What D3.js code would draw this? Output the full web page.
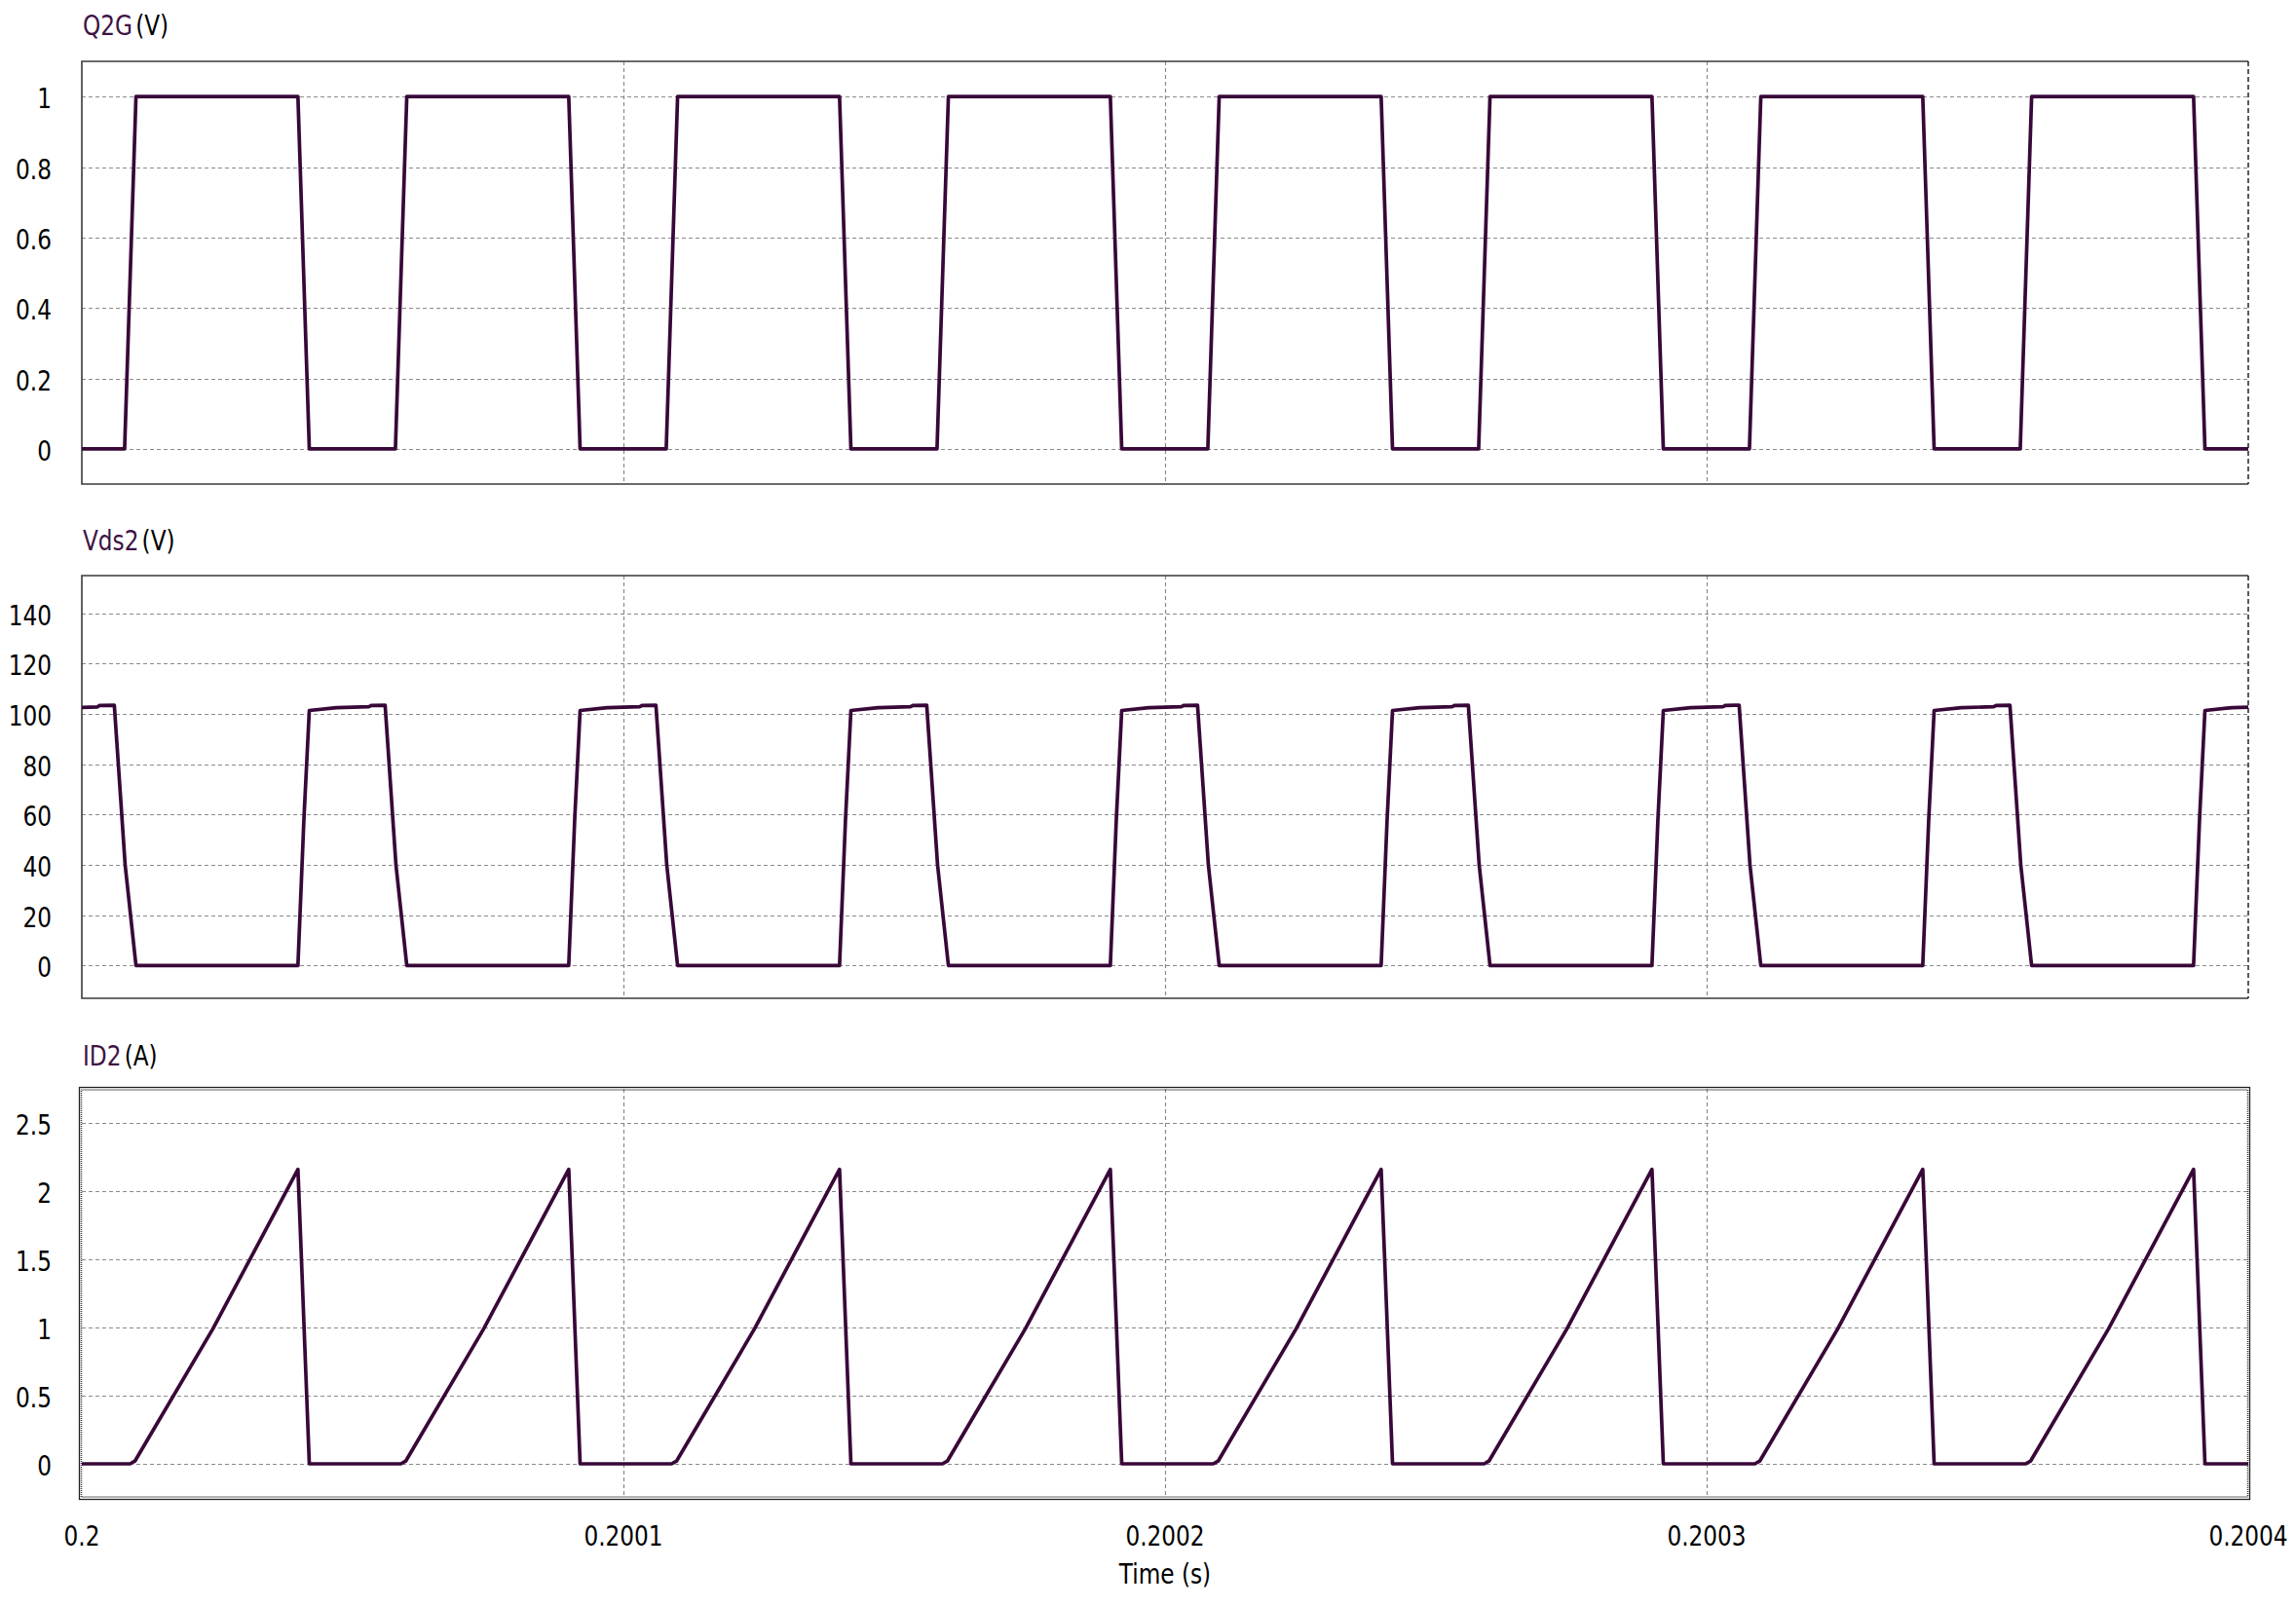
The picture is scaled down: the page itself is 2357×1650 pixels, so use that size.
<!DOCTYPE html>
<html>
<head>
<meta charset="utf-8">
<script src="https://cdn.jsdelivr.net/npm/d3@7"></script>
<style>
  html, body { margin: 0; padding: 0; background: #fff; }
  svg { display: block; }
  text { font-family: "DejaVu Sans", "Noto Sans", sans-serif; }
</style>
</head>
<body>
<script>
// ---------------- DATA (time in microseconds after t = 0.2 s) ----------------
const xTickValues = [0, 100, 200, 300, 400];
const xTickLabels = ["0.2", "0.2001", "0.2002", "0.2003", "0.2004"];
const xAxisTitle = "Time (s)";

const q2gTicks = [0, 0.2, 0.4, 0.6, 0.8, 1];
const q2gTickLabels = ["0", "0.2", "0.4", "0.6", "0.8", "1"];
const vdsTicks = [0, 20, 40, 60, 80, 100, 120, 140];
const vdsTickLabels = ["0", "20", "40", "60", "80", "100", "120", "140"];
const idTicks = [0, 0.5, 1, 1.5, 2, 2.5];
const idTickLabels = ["0", "0.5", "1", "1.5", "2", "2.5"];

const q2gT = [0,
  7.9, 10, 39.9, 42,
  57.9, 60, 89.9, 92,
  107.9, 110, 139.9, 142,
  157.9, 160, 189.9, 192,
  207.9, 210, 239.9, 242,
  257.9, 260, 289.9, 292,
  307.9, 310, 339.9, 342,
  357.9, 360, 389.9, 392,
  400];
const q2gV = [0,
  0, 1, 1, 0,
  0, 1, 1, 0,
  0, 1, 1, 0,
  0, 1, 1, 0,
  0, 1, 1, 0,
  0, 1, 1, 0,
  0, 1, 1, 0,
  0, 1, 1, 0,
  0];

const vdsT = [0, 2.9, 3.3,
  6, 8, 10, 39.9, 41, 42, 47, 53, 53.5,
  56, 58, 60, 89.9, 91, 92, 97, 103, 103.5,
  106, 108, 110, 139.9, 141, 142, 147, 153, 153.5,
  156, 158, 160, 189.9, 191, 192, 197, 203, 203.5,
  206, 208, 210, 239.9, 241, 242, 247, 253, 253.5,
  256, 258, 260, 289.9, 291, 292, 297, 303, 303.5,
  306, 308, 310, 339.9, 341, 342, 347, 353, 353.5,
  356, 358, 360, 389.9, 391, 392, 397, 400];
const vdsV = [102.6, 102.8, 103.4,
  103.5, 40, 0, 0, 58, 101.4, 102.5, 102.9, 103.4,
  103.5, 40, 0, 0, 58, 101.4, 102.5, 102.9, 103.4,
  103.5, 40, 0, 0, 58, 101.4, 102.5, 102.9, 103.4,
  103.5, 40, 0, 0, 58, 101.4, 102.5, 102.9, 103.4,
  103.5, 40, 0, 0, 58, 101.4, 102.5, 102.9, 103.4,
  103.5, 40, 0, 0, 58, 101.4, 102.5, 102.9, 103.4,
  103.5, 40, 0, 0, 58, 101.4, 102.5, 102.9, 103.4,
  103.5, 40, 0, 0, 58, 101.4, 102.5, 102.7];

const idT = [0,
  8.9, 9.8, 24.2, 39.9, 40.6, 42,
  58.9, 59.8, 74.2, 89.9, 90.6, 92,
  108.9, 109.8, 124.2, 139.9, 140.6, 142,
  158.9, 159.8, 174.2, 189.9, 190.6, 192,
  208.9, 209.8, 224.2, 239.9, 240.6, 242,
  258.9, 259.8, 274.2, 289.9, 290.6, 292,
  308.9, 309.8, 324.2, 339.9, 340.6, 342,
  358.9, 359.8, 374.2, 389.9, 390.6, 392,
  400];
const idV = [0,
  0, 0.02, 0.99, 2.16, 1.45, 0,
  0, 0.02, 0.99, 2.16, 1.45, 0,
  0, 0.02, 0.99, 2.16, 1.45, 0,
  0, 0.02, 0.99, 2.16, 1.45, 0,
  0, 0.02, 0.99, 2.16, 1.45, 0,
  0, 0.02, 0.99, 2.16, 1.45, 0,
  0, 0.02, 0.99, 2.16, 1.45, 0,
  0, 0.02, 0.99, 2.16, 1.45, 0,
  0];

const panels = [
  { name: "Q2G", unit: "(V)", t: q2gT, v: q2gV, ticks: q2gTicks, labels: q2gTickLabels,
    domain: [-0.1, 1.1], top: 63, bottom: 497, titleY: 36, selected: false },
  { name: "Vds2", unit: "(V)", t: vdsT, v: vdsV, ticks: vdsTicks, labels: vdsTickLabels,
    domain: [-13, 155], top: 591, bottom: 1025, titleY: 565, selected: false },
  { name: "ID2", unit: "(A)", t: idT, v: idV, ticks: idTicks, labels: idTickLabels,
    domain: [-0.25, 2.75], top: 1118, bottom: 1538, titleY: 1094, selected: true }
];

// ---------------- LAYOUT ----------------
const W = 2357, H = 1650;
const X0 = 84, X1 = 2308;
const SX = 0.8;          // horizontal squeeze of the text to match the reference
const FS = 29;
const traceColor = "#380838";
const titleColor = "#3d1444";

const svg = d3.select("body").append("svg").attr("width", W).attr("height", H);
svg.append("rect").attr("width", W).attr("height", H).attr("fill", "#fff");

const x = d3.scaleLinear().domain([0, 400]).range([X0, X1]);

function label(g, px, py, str, anchor, color) {
  return g.append("text")
    .attr("transform", `translate(${px},${py}) scale(${SX},1)`)
    .attr("text-anchor", anchor)
    .attr("font-size", FS)
    .attr("fill", color || "#000")
    .text(str);
}

panels.forEach(p => {
  const y = d3.scaleLinear().domain(p.domain).range([p.bottom, p.top]);
  const g = svg.append("g");

  // horizontal grid
  g.selectAll(".hg").data(p.ticks).enter().append("line")
    .attr("x1", X0).attr("x2", X1)
    .attr("y1", d => Math.round(y(d)) + 0.5).attr("y2", d => Math.round(y(d)) + 0.5)
    .attr("stroke", "#8a8a8a").attr("stroke-width", 1.2)
    .attr("stroke-dasharray", "4,3");

  // vertical grid
  g.selectAll(".vg").data(xTickValues.slice(1, -1)).enter().append("line")
    .attr("x1", d => Math.round(x(d)) + 0.5).attr("x2", d => Math.round(x(d)) + 0.5)
    .attr("y1", p.top).attr("y2", p.bottom)
    .attr("stroke", "#8a8a8a").attr("stroke-width", 1.2)
    .attr("stroke-dasharray", "4,3");

  // frame
  if (p.selected) {
    g.append("rect").attr("x", X0 - 2.5).attr("y", p.top - 1.5)
      .attr("width", X1 - X0 + 4).attr("height", p.bottom - p.top + 3)
      .attr("fill", "none").attr("stroke", "#222").attr("stroke-width", 1.3);
    g.append("rect").attr("x", X0 - 0.5).attr("y", p.top + 1)
      .attr("width", X1 - X0).attr("height", p.bottom - p.top - 2)
      .attr("fill", "none").attr("stroke", "#333").attr("stroke-width", 1.5)
      .attr("stroke-dasharray", "1,1");
  } else {
    g.append("path")
      .attr("d", `M${X1},${p.top}H${X0}V${p.bottom}H${X1}`)
      .attr("fill", "none").attr("stroke", "#3a3a3a").attr("stroke-width", 1.6);
    g.append("line").attr("x1", X1).attr("x2", X1).attr("y1", p.top).attr("y2", p.bottom)
      .attr("stroke", "#222").attr("stroke-width", 1.5).attr("stroke-dasharray", "5,3");
  }

  // y tick labels
  p.ticks.forEach((tv, i) => {
    label(g, 53, y(tv) + 12, p.labels[i], "end");
  });

  // title
  const tt = g.append("text")
    .attr("transform", `translate(85,${p.titleY}) scale(${SX},1)`)
    .attr("font-size", FS);
  tt.append("tspan").attr("fill", titleColor).text(p.name);
  tt.append("tspan").attr("fill", "#000").attr("dx", 4).text(p.unit);

  // trace
  const pts = p.t.map((t, i) => [t, p.v[i]]);
  const line = d3.line().x(d => x(d[0])).y(d => y(d[1]));
  g.append("path").datum(pts)
    .attr("d", line)
    .attr("fill", "none")
    .attr("stroke", traceColor)
    .attr("stroke-width", 3.7)
    .attr("stroke-linejoin", "round");
});

// x tick labels
xTickValues.forEach((tv, i) => {
  label(svg, x(tv), 1587, xTickLabels[i], "middle");
});
label(svg, x(200), 1626, xAxisTitle, "middle");
</script>
</body>
</html>
